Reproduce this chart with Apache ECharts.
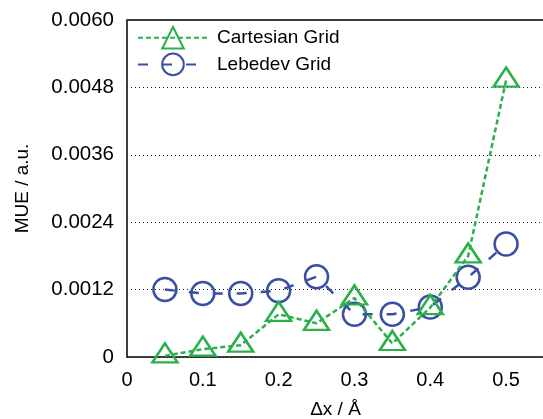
<!DOCTYPE html>
<html>
<head>
<meta charset="utf-8">
<script src="https://cdn.jsdelivr.net/npm/echarts@6/dist/echarts.min.js"></script>
<style>
  html, body { margin: 0; padding: 0; background: #fff; }
  #chart { width: 543px; height: 419px; }
</style>
</head>
<body>
<div id="chart"></div>
<script>
// grid spacing (Å)
var dx = [0.05, 0.1, 0.15, 0.2, 0.25, 0.3, 0.35, 0.4, 0.45, 0.5];
// MUE values
var cartesian = [0.00002, 0.00014, 0.00021, 0.00076, 0.00060, 0.00105, 0.00024, 0.00088, 0.00180, 0.00493];
var lebedev = [0.00120, 0.00113, 0.00113, 0.00118, 0.00143, 0.00076, 0.00076, 0.00089, 0.00142, 0.00201];

var green = '#2bb04a';
var blue = '#3a4fa3';
var font = 'Liberation Sans, Arial, sans-serif';

function pairs(xs, ys) {
    return xs.map(function (x, i) { return [x, ys[i]]; });
}

var chart = echarts.init(document.getElementById('chart'));
chart.setOption({
    animation: false,
    grid: {
        left: 127,
        top: 20,
        right: -1,
        bottom: 62,
        outerBoundsMode: 'none',
        show: true,
        borderColor: '#000',
        borderWidth: 1.5
    },
    legend: {
        orient: 'vertical',
        left: 132,
        top: 21,
        itemWidth: 70,
        itemHeight: 27,
        itemGap: 3,
        textStyle: { fontFamily: font, fontSize: 19, color: '#000', padding: [0, 0, 0, 4] },
        data: ['Cartesian Grid', 'Lebedev Grid']
    },
    xAxis: {
        type: 'value',
        min: 0,
        max: 0.55,
        interval: 0.1,
        name: 'Δx / Å',
        nameLocation: 'middle',
        nameGap: 43,
        nameTextStyle: { fontFamily: font, fontSize: 19, color: '#000' },
        axisLine: { show: false },
        axisTick: { show: false },
        splitLine: { show: false },
        axisLabel: {
            showMaxLabel: false,
            margin: 13,
            fontFamily: font,
            fontSize: 20,
            color: '#000',
            formatter: function (v) { return v === 0 ? '0' : String(+v.toFixed(2)); }
        }
    },
    yAxis: {
        type: 'value',
        min: 0,
        max: 0.006,
        interval: 0.0012,
        name: 'MUE / a.u.',
        nameLocation: 'middle',
        nameGap: 95,
        nameTextStyle: { fontFamily: font, fontSize: 19, color: '#000' },
        axisLine: { show: false },
        axisTick: { show: false },
        splitLine: {
            show: true,
            lineStyle: { color: '#222', width: 1, type: [1, 3] }
        },
        axisLabel: {
            margin: 13,
            fontFamily: font,
            fontSize: 20.5,
            color: '#000',
            formatter: function (v) { return v === 0 ? '0' : v.toFixed(4); }
        }
    },
    series: [
        {
            name: 'Cartesian Grid',
            type: 'line',
            data: pairs(dx, cartesian),
            symbol: 'triangle',
            symbolSize: [25, 19],
            symbolOffset: [0, -3],
            z: 3,
            lineStyle: { color: green, width: 2.5, type: [5, 3] },
            itemStyle: { color: 'rgba(0,0,0,0)', borderColor: green, borderWidth: 2.5 }
        },
        {
            name: 'Lebedev Grid',
            type: 'line',
            data: pairs(dx, lebedev),
            symbol: 'circle',
            symbolSize: 23,
            z: 2,
            lineStyle: { color: blue, width: 2.5, type: [10, 14] },
            itemStyle: { color: 'rgba(0,0,0,0)', borderColor: blue, borderWidth: 2.5 }
        }
    ]
});
</script>
</body>
</html>
